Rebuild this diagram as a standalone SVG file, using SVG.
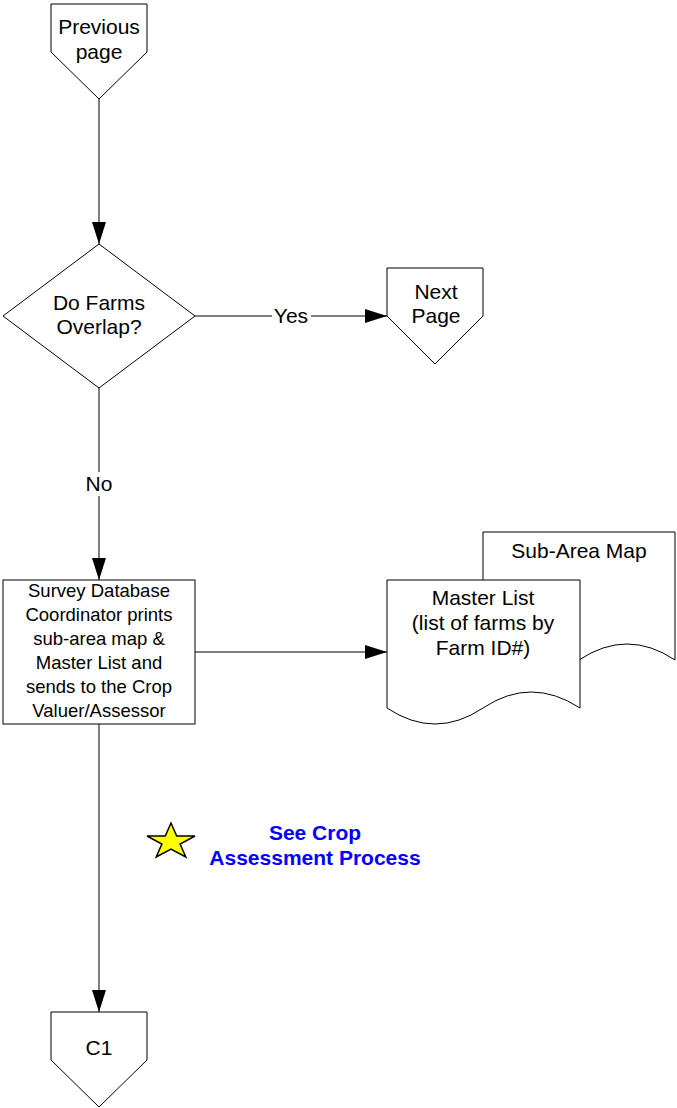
<svg xmlns="http://www.w3.org/2000/svg" width="677" height="1108" viewBox="0 0 677 1108">
<style>
.s{fill:#fff;stroke:#000;stroke-width:1}
.t{font-family:"Liberation Sans",Arial,sans-serif;font-size:21px;fill:#000;text-anchor:middle}
.b{font-size:18.5px}
.c{stroke:#000;stroke-width:1;fill:none}
.lk{font-family:"Liberation Sans",Arial,sans-serif;font-size:21px;font-weight:bold;fill:#0000ff;text-anchor:middle}
</style>
<defs>
<marker id="ah" markerUnits="userSpaceOnUse" markerWidth="22" markerHeight="14" refX="22" refY="7" orient="auto">
<path d="M0,0 L22,7 L0,14 Z" fill="#000"/>
</marker>
</defs>
<rect width="677" height="1108" fill="#fff"/>
<g id="connectors">
<line class="c" x1="99" y1="99" x2="99" y2="244" marker-end="url(#ah)"/>
<line class="c" x1="195" y1="316" x2="387" y2="316" marker-end="url(#ah)"/>
<line class="c" x1="99" y1="388" x2="99" y2="580" marker-end="url(#ah)"/>
<line class="c" x1="195" y1="652" x2="387" y2="652" marker-end="url(#ah)"/>
<line class="c" x1="99" y1="724" x2="99" y2="1012" marker-end="url(#ah)"/>
<rect x="272" y="304" width="39" height="24" fill="#fff"/>
<text class="t" x="291" y="323">Yes</text>
<rect x="84" y="472" width="30" height="24" fill="#fff"/>
<text class="t" x="99" y="491">No</text>
</g>
<g id="prev">
<path class="s" d="M51,4 H147 V52 L99,99 L51,52 Z"/>
<text class="t" x="99" y="34">Previous</text>
<text class="t" x="99" y="59">page</text>
</g>
<g id="decision">
<path class="s" d="M3,316 L99,244 L195,316 L99,388 Z"/>
<text class="t" x="99" y="310">Do Farms</text>
<text class="t" x="99" y="334">Overlap?</text>
</g>
<g id="next">
<path class="s" d="M387,268 H483 V316 L435,364 L387,316 Z"/>
<text class="t" x="436" y="299">Next</text>
<text class="t" x="436" y="323">Page</text>
</g>
<g id="process">
<rect class="s" x="3" y="580" width="192" height="144"/>
<text class="t b" x="99" y="597">Survey Database</text>
<text class="t b" x="99" y="621">Coordinator prints</text>
<text class="t b" x="99" y="645">sub-area map &amp;</text>
<text class="t b" x="99" y="669">Master List and</text>
<text class="t b" x="99" y="693">sends to the Crop</text>
<text class="t b" x="99" y="717">Valuer/Assessor</text>
</g>
<g id="subarea">
<path class="s" d="M483,532 H675 V660 Q627,628 579,660 Q531,692 483,660 Z"/>
<text class="t" x="579" y="558">Sub-Area Map</text>
</g>
<g id="masterlist">
<path class="s" d="M387,580 H580 V708 Q531,676 483,708 Q435,740 387,708 Z"/>
<text class="t" x="483" y="605">Master List</text>
<text class="t" x="483" y="630">(list of farms by</text>
<text class="t" x="483" y="655">Farm ID#)</text>
</g>
<g id="note">
<polygon points="171,823 176.7,836 195,836 180.1,844 185.8,857 171,849 156.2,857 161.9,844 147,836 165.3,836" fill="#ffff00" stroke="#000" stroke-width="1.5" stroke-linejoin="miter"/>
<text class="lk" x="315" y="840">See Crop</text>
<text class="lk" x="315" y="865">Assessment Process</text>
</g>
<g id="c1">
<path class="s" d="M51,1012 H147 V1060 L99,1107 L51,1060 Z"/>
<text class="t" x="99" y="1055">C1</text>
</g>
</svg>
